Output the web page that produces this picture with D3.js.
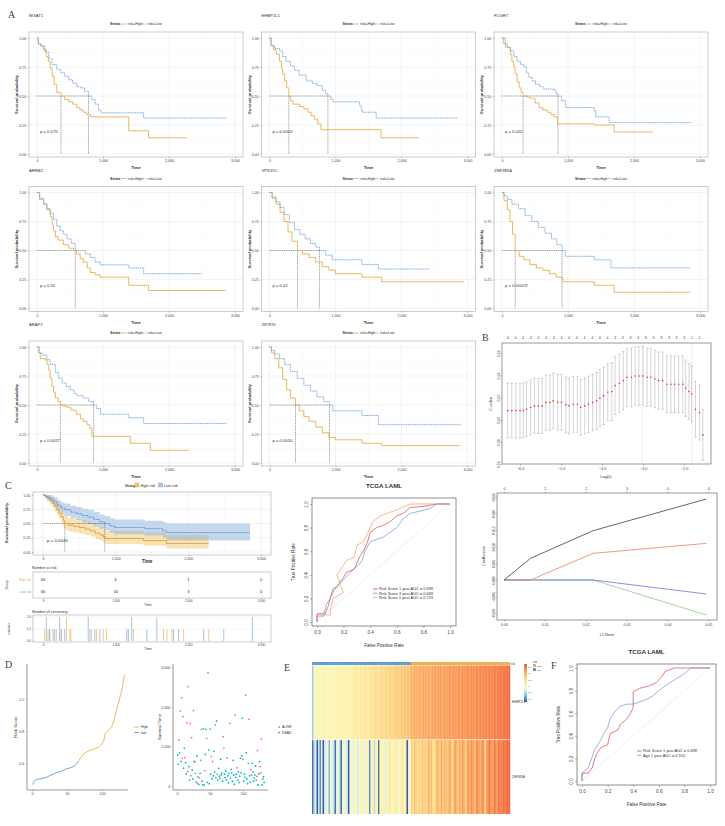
<!DOCTYPE html>
<html>
<head>
  <script src="https://d3js.org/d3.v7.min.js"></script>
  <title>Risk model figure</title>
  <style>
    body { margin: 0; background: #fff; }
    svg { display: block; font-family: "Liberation Sans", Arial, sans-serif; }
  </style>
</head>
<body>
<div id="fig"></div>
<script>
// ---------------- data ----------------
// A: Kaplan-Meier curves per gene (time in days, survival prob)
const kmGenes = ["MGAT1", "EHBP1L1", "FCGRT", "ARRB2", "VPS37C", "ZNF385A", "ARAP1", "Z87870"];
const kmPvals = ["p = 0.075", "p = 0.0003", "p = 0.022", "p = 0.32", "p = 0.42", "p = 0.00019", "p = 0.0027", "p = 0.0010"];
const kmHigh = [
  [[0,1],[20,0.95],[60,0.93],[100,0.9],[140,0.84],[170,0.8],[200,0.74],[230,0.67],[260,0.6],[300,0.53],[364,0.5],[420,0.47],[480,0.45],[540,0.43],[600,0.4],[650,0.38],[700,0.36],[750,0.34],[810,0.32],[1390,0.2],[1690,0.14],[2280,0.14]],
  [[0,1],[25,0.94],[60,0.9],[100,0.86],[150,0.8],[180,0.74],[200,0.69],[230,0.63],[260,0.57],[293,0.5],[320,0.46],[354,0.43],[455,0.41],[520,0.39],[580,0.36],[630,0.33],[680,0.3],[730,0.26],[780,0.21],[1690,0.14],[2270,0.14]],
  [[0,1],[25,0.95],[80,0.92],[127,0.86],[150,0.8],[178,0.75],[200,0.69],[228,0.62],[260,0.57],[290,0.53],[320,0.5],[380,0.49],[430,0.48],[500,0.44],[560,0.4],[620,0.38],[685,0.36],[740,0.34],[787,0.32],[840,0.26],[1396,0.25],[1700,0.19],[2285,0.19]],
  [[0,1],[40,0.95],[100,0.9],[150,0.85],[200,0.79],[230,0.72],[250,0.67],[280,0.62],[320,0.59],[400,0.55],[480,0.52],[555,0.5],[600,0.47],[655,0.43],[700,0.4],[760,0.35],[808,0.31],[880,0.29],[960,0.27],[1390,0.2],[1690,0.155],[2860,0.155]],
  [[0,1],[40,0.95],[100,0.9],[160,0.83],[220,0.75],[280,0.66],[340,0.58],[424,0.5],[500,0.47],[600,0.44],[700,0.4],[800,0.36],[900,0.33],[1000,0.3],[1400,0.27],[1700,0.23],[2950,0.23]],
  [[0,1],[30,0.93],[80,0.85],[120,0.75],[160,0.64],[200,0.5],[260,0.45],[330,0.42],[420,0.38],[520,0.35],[620,0.33],[720,0.3],[820,0.27],[920,0.23],[1400,0.2],[1700,0.14],[2850,0.14]],
  [[0,1],[30,0.95],[50,0.9],[126,0.89],[150,0.85],[177,0.8],[200,0.73],[227,0.66],[250,0.61],[278,0.56],[320,0.53],[353,0.5],[400,0.49],[455,0.48],[510,0.46],[555,0.45],[600,0.42],[657,0.38],[700,0.36],[757,0.33],[800,0.3],[833,0.23],[1414,0.17],[1717,0.11],[2300,0.11]],
  [[0,1],[30,0.95],[80,0.9],[140,0.82],[200,0.72],[260,0.63],[320,0.56],[394,0.5],[450,0.45],[520,0.4],[600,0.36],[700,0.31],[800,0.26],[900,0.22],[1000,0.2],[1400,0.17],[1700,0.15],[2880,0.15]]
];
const kmLow = [
  [[0,1],[20,0.95],[60,0.93],[120,0.88],[180,0.82],[230,0.77],[300,0.73],[360,0.7],[420,0.67],[480,0.64],[540,0.61],[600,0.58],[660,0.57],[720,0.54],[780,0.5],[830,0.47],[880,0.43],[930,0.38],[970,0.355],[1616,0.31],[2880,0.31]],
  [[0,1],[25,0.93],[80,0.91],[150,0.89],[200,0.84],[250,0.8],[320,0.76],[380,0.72],[450,0.68],[555,0.63],[650,0.61],[720,0.59],[800,0.55],[850,0.52],[885,0.5],[930,0.47],[960,0.45],[1365,0.42],[1390,0.38],[1410,0.36],[1616,0.31],[2850,0.31]],
  [[0,1],[50,0.92],[127,0.89],[180,0.84],[228,0.8],[280,0.77],[330,0.75],[370,0.7],[406,0.66],[460,0.63],[508,0.6],[570,0.58],[635,0.56],[787,0.55],[820,0.52],[848,0.5],[900,0.46],[965,0.4],[1396,0.37],[1420,0.32],[1624,0.27],[2870,0.27]],
  [[0,1],[40,0.94],[100,0.9],[150,0.86],[200,0.82],[250,0.77],[300,0.71],[350,0.67],[400,0.64],[455,0.6],[520,0.56],[580,0.5],[655,0.5],[730,0.47],[808,0.44],[880,0.4],[960,0.376],[1390,0.35],[1616,0.3],[2500,0.3]],
  [[0,1],[40,0.96],[100,0.92],[160,0.87],[220,0.81],[300,0.74],[380,0.68],[460,0.64],[540,0.6],[620,0.56],[700,0.53],[757,0.5],[850,0.46],[950,0.42],[1400,0.38],[1650,0.34],[2420,0.34]],
  [[0,1],[30,0.97],[80,0.94],[150,0.9],[250,0.86],[350,0.8],[450,0.75],[550,0.7],[650,0.65],[750,0.6],[830,0.55],[910,0.5],[960,0.45],[1400,0.42],[1650,0.35],[2850,0.35]],
  [[0,1],[30,0.95],[80,0.93],[150,0.89],[200,0.85],[278,0.78],[330,0.73],[380,0.69],[440,0.66],[505,0.63],[560,0.6],[606,0.58],[700,0.56],[783,0.53],[858,0.5],[900,0.47],[960,0.42],[1390,0.39],[1616,0.34],[2880,0.34]],
  [[0,1],[30,0.97],[80,0.94],[150,0.9],[230,0.85],[320,0.79],[420,0.73],[520,0.67],[620,0.62],[720,0.57],[820,0.53],[909,0.5],[960,0.45],[1400,0.41],[1650,0.33],[2900,0.33]]
];
const kmMedians = [[364,780],[293,885],[320,848],[580],[424,757],[200,910],[353,858],[394,909]];

// B: lasso cross-validation
const cvLogLambda = [-6.30,-6.20,-6.10,-6.00,-5.92,-5.84,-5.74,-5.65,-5.55,-5.46,-5.37,-5.27,-5.19,-5.08,-4.99,-4.88,-4.80,-4.70,-4.60,-4.52,-4.42,-4.33,-4.23,-4.13,-4.05,-3.96,-3.86,-3.76,-3.68,-3.58,-3.48,-3.39,-3.28,-3.19,-3.10,-3.00,-2.90,-2.81,-2.71,-2.62,-2.52,-2.42,-2.32,-2.23,-2.13,-2.03,-1.96,-1.88,-1.81,-1.72,-1.62,-1.54];
const cvMean = [0.6084,0.6084,0.6084,0.6084,0.6084,0.6096,0.6111,0.6126,0.6126,0.6126,0.6156,0.6156,0.6171,0.6159,0.6159,0.6135,0.6126,0.6141,0.6141,0.6114,0.6126,0.6141,0.6156,0.6171,0.6195,0.6216,0.6249,0.6255,0.6309,0.6330,0.6354,0.6384,0.6384,0.6396,0.6396,0.6396,0.6384,0.6384,0.6369,0.6354,0.6354,0.6321,0.6321,0.6321,0.6321,0.6321,0.6285,0.6255,0.6234,0.6096,0.6066,0.5865];
const cvSd = [0.0246,0.0246,0.0246,0.0246,0.0246,0.0246,0.0247,0.0247,0.0247,0.0248,0.0249,0.0250,0.0250,0.0250,0.0251,0.0252,0.0252,0.0252,0.0252,0.0252,0.0253,0.0254,0.0255,0.0256,0.0257,0.0258,0.0259,0.0260,0.0261,0.0262,0.0262,0.0263,0.0264,0.0264,0.0264,0.0263,0.0262,0.0261,0.0260,0.0258,0.0257,0.0256,0.0255,0.0255,0.0255,0.0255,0.0254,0.0253,0.0252,0.0250,0.0248,0.0230];
const cvTopLabels = ["4","4","4","4","4","4","4","4","4","4","4","4","4","4","3","3","3","3","3","3","3","3","3","3","1","1"];
const cvTicksY = [0.56, 0.58, 0.60, 0.62, 0.64, 0.66];
const cvLambdaMin = -3.02, cvLambda1se = -1.81;

// Lasso coefficient path
const coefL1 = [0, 0.0065, 0.0218, 0.0495];
const coefGene1 = [0, 0.0065, 0.0148, 0.0243];
const coefGene2 = [0, 0, 0.008, 0.011];
const coefGene3 = [0, 0, 0, -0.0042];
const coefGene4 = [0, 0, 0, -0.0105];
const coefTopLabels = ["0", "2", "2", "3", "4", "4"];

// C: risk-group KM with CI [time, surv, lower, upper]
const cHigh = [[0,1,1,1],[30,0.97,0.93,1],[60,0.94,0.88,1],[100,0.9,0.83,0.97],[130,0.85,0.77,0.94],[160,0.8,0.71,0.9],[190,0.74,0.64,0.85],[220,0.68,0.58,0.8],[250,0.62,0.51,0.74],[280,0.55,0.44,0.68],[300,0.5,0.39,0.63],[350,0.47,0.36,0.6],[420,0.45,0.34,0.58],[500,0.43,0.32,0.56],[580,0.4,0.3,0.54],[650,0.37,0.27,0.51],[720,0.33,0.23,0.47],[780,0.3,0.2,0.44],[830,0.26,0.17,0.4],[860,0.235,0.14,0.37],[1380,0.2,0.11,0.34],[1700,0.15,0.06,0.3],[2280,0.15,0.06,0.3]];
const cLow = [[0,1,1,1],[30,0.98,0.95,1],[60,0.96,0.91,1],[100,0.93,0.87,0.99],[150,0.88,0.8,0.96],[200,0.82,0.73,0.91],[250,0.77,0.67,0.87],[300,0.74,0.63,0.85],[380,0.7,0.59,0.81],[460,0.67,0.56,0.79],[540,0.64,0.52,0.76],[620,0.61,0.49,0.74],[700,0.57,0.45,0.7],[780,0.53,0.41,0.66],[850,0.5,0.38,0.63],[920,0.46,0.34,0.6],[980,0.43,0.31,0.57],[1400,0.41,0.29,0.55],[1650,0.37,0.25,0.52],[1700,0.34,0.2,0.5],[2850,0.34,0.2,0.5]];
const cMedians = [300, 850];
const riskTimes = [0, 1000, 2000, 3000];
const riskHighN = [66, 6, 1, 0];
const riskLowN = [66, 16, 3, 0];
const censorHighT = [23, 69, 92, 184, 230, 322, 369, 382, 668, 737, 829, 875, 1244, 1659, 1705, 1774, 1935, 2281];
const censorHighN = [1, 1, 1, 1, 1, 2, 1, 1, 1, 1, 1, 1, 1, 1, 1, 1, 1, 1];
const censorLowT = [46, 92, 138, 161, 230, 253, 299, 622, 645, 714, 783, 1152, 1175, 1221, 1429, 1567, 1797, 1866, 2212, 2488, 2880];
const censorLowN = [2, 1, 1, 1, 2, 1, 1, 2, 1, 1, 1, 1, 1, 2, 1, 2, 1, 1, 1, 1, 2];

// D: risk score curve (patient rank, score) and survival status
const riskRank = [1,3,6,10,15,20,25,30,35,40,45,50,55,60,63,66,70,75,80,85,90,95,100,103,105,108,112,116,119,122,125,128,130,132];
const riskScore = [0.13,0.17,0.19,0.2,0.21,0.22,0.24,0.26,0.28,0.29,0.31,0.33,0.34,0.36,0.38,0.42,0.47,0.52,0.55,0.56,0.58,0.6,0.64,0.7,0.78,0.8,0.83,0.9,1.0,1.1,1.2,1.3,1.4,1.5];
const nLow = 66;
const survTime = [785,550,1165,840,1900,620,2237,700,1755,450,954,718,590,300,1604,363,2515,490,150,1587,260,1224,405,180,1907,620,616,320,100,760,68,230,40,200,320,650,1435,120,30,1450,25,390,800,1435,1207,90,2870,910,60,1440,300,750,180,620,260,880,350,1545,210,1646,300,150,447,250,195,680,280,330,120,1250,954,300,210,380,150,710,260,80,320,1587,200,420,330,120,650,280,40,1797,220,300,460,150,360,90,250,700,330,760,1713,675,120,300,220,2304,844,180,60,574,1688,260,100,420,278,574,350,120,200,280,506,150,240,895,25,310,616,490,337,1190,25,180,236,90];
const survStatus = ["D","D","A","D","A","D","A","A","A","D","D","A","D","D","A","A","A","D","D","A","A","A","D","D","A","A","D","A","D","D","A","D","D","A","D","A","A","D","D","D","D","A","D","D","A","D","A","D","D","D","D","A","D","A","D","D","D","A","D","D","A","D","D","D","D","D","D","D","D","A","A","D","D","D","D","A","D","D","D","A","D","D","D","D","D","D","D","A","D","D","A","D","D","D","D","D","D","D","D","A","D","D","D","A","D","D","D","D","A","D","D","A","A","D","D","D","D","D","D","D","A","A","D","D","D","A","A","A","D","D","D","D"];

// E: heatmap of two genes across patients (sorted by risk)
const heatGenes = ["EHBP1L1", "ZNF385A"];
const heatEHBP1L1 = [0.75,1.02,1.0,1.04,1.02,0.99,1.05,1.02,1.07,1.04,1.0,1.06,1.02,1.07,1.05,1.02,1.08,1.06,1.04,1.09,1.07,1.05,1.1,1.08,1.12,1.06,1.1,1.12,1.09,1.14,1.12,1.1,1.16,1.12,1.14,1.17,1.15,1.12,1.18,1.16,1.2,1.17,1.22,1.19,1.16,1.22,1.24,1.2,1.22,1.26,1.22,1.24,1.28,1.25,1.22,1.29,1.27,1.3,1.26,1.32,1.29,1.32,1.3,1.34,1.32,1.36,
  1.40,1.38,1.42,1.41,1.39,1.43,1.42,1.40,1.44,1.42,1.41,1.45,1.43,1.42,1.46,1.44,1.47,1.43,1.45,1.48,1.46,1.44,1.49,1.47,1.46,1.5,1.48,1.46,1.5,1.49,1.47,1.51,1.5,1.48,1.52,1.5,1.49,1.53,1.51,1.5,1.54,1.52,1.5,1.55,1.53,1.52,1.56,1.54,1.53,1.57,1.55,1.54,1.58,1.56,1.55,1.59,1.58,1.56,1.6,1.59,1.61,1.6,1.62,1.61,1.63,1.65];
const heatZNF385A = [0.55,0.8,0.9,0.5,0.85,0.6,0.95,0.5,0.85,0.9,0.95,0.7,1.0,0.9,0.85,0.55,0.9,1.0,0.8,0.55,0.95,1.0,0.9,0.85,0.5,0.95,1.0,0.9,1.05,1.0,0.85,0.95,1.05,1.1,1.0,0.9,1.05,1.1,0.6,0.95,1.05,0.8,1.1,1.05,0.55,1.0,1.1,1.05,0.9,1.1,1.05,1.15,1.1,1.0,1.05,1.1,1.15,1.05,0.95,1.1,1.15,1.05,1.1,0.5,0.9,1.05,
  1.3,1.2,1.35,1.25,1.2,1.3,1.15,1.35,1.25,1.3,1.2,1.4,1.3,1.35,1.25,1.15,1.3,1.4,1.35,1.3,1.45,1.25,1.4,1.35,1.3,1.45,1.4,1.2,1.35,1.5,1.4,1.3,1.45,1.35,1.5,1.4,1.25,1.45,1.5,1.4,1.55,1.45,1.35,1.5,1.55,1.45,1.4,1.55,1.5,1.2,1.5,1.55,1.6,1.5,1.45,1.6,1.55,1.5,1.62,1.58,1.55,1.64,1.6,1.63,1.66,1.65];
const heatLegendTicks = [1.6, 1.4, 1.2, 1, 0.8, 0.6];

// ROC curves [FPR, TPR]
const rocRisk1y = [[0,0],[0,0.07],[0.06,0.07],[0.08,0.12],[0.1,0.2],[0.12,0.28],[0.15,0.3],[0.2,0.38],[0.22,0.42],[0.28,0.45],[0.3,0.5],[0.32,0.55],[0.35,0.6],[0.38,0.68],[0.4,0.76],[0.45,0.8],[0.5,0.82],[0.55,0.85],[0.6,0.9],[0.65,0.92],[0.7,0.97],[0.8,0.98],[0.9,1],[1,1]];
const rocRisk3y = [[0,0],[0,0.05],[0.05,0.05],[0.07,0.15],[0.1,0.2],[0.12,0.25],[0.15,0.3],[0.2,0.36],[0.25,0.42],[0.3,0.47],[0.34,0.52],[0.36,0.6],[0.4,0.68],[0.5,0.72],[0.55,0.76],[0.6,0.8],[0.65,0.88],[0.7,0.92],[0.85,0.96],[0.9,1],[1,1]];
const rocRisk5y = [[0,0],[0,0.06],[0.1,0.06],[0.1,0.1],[0.12,0.2],[0.2,0.25],[0.18,0.3],[0.15,0.4],[0.2,0.48],[0.22,0.52],[0.28,0.55],[0.3,0.65],[0.35,0.68],[0.38,0.75],[0.42,0.85],[0.48,0.9],[0.55,0.93],[0.6,0.95],[0.7,1],[1,1]];
const rocLegend1 = ["Risk Score 1 year AUC = 0.699", "Risk Score 3 year AUC = 0.683", "Risk Score 5 year AUC = 0.723"];
const rocRiskF = [[0,0],[0,0.07],[0.05,0.07],[0.08,0.12],[0.1,0.2],[0.12,0.25],[0.15,0.3],[0.2,0.32],[0.22,0.42],[0.28,0.45],[0.3,0.5],[0.35,0.55],[0.38,0.6],[0.4,0.65],[0.4,0.79],[0.45,0.82],[0.52,0.84],[0.58,0.87],[0.62,0.92],[0.65,0.97],[0.72,1],[1,1]];
const rocAgeF = [[0,0],[0,0.07],[0.05,0.12],[0.1,0.28],[0.14,0.35],[0.17,0.42],[0.2,0.47],[0.22,0.55],[0.26,0.62],[0.3,0.66],[0.35,0.68],[0.4,0.68],[0.5,0.72],[0.55,0.75],[0.6,0.8],[0.7,0.88],[0.8,0.95],[0.85,1],[1,1]];
const rocLegendF = ["Risk Score 1 year AUC = 0.699", "Age 1 year AUC = 0.552"];

// ---------------- drawing ----------------
const ORANGE = "#E8B04E", BLUE = "#6EA5DA";
const svg = d3.select("#fig").append("svg").attr("width", 725).attr("height", 826);
svg.append("rect").attr("width", 725).attr("height", 826).attr("fill", "#fff");

function txt(g, x, y, s, fs, opts = {}) {
  const t = g.append("text").attr("x", x).attr("y", y).text(s)
    .style("font-size", fs + "px").attr("fill", opts.fill || "#333")
    .attr("text-anchor", opts.anchor || "start");
  if (opts.weight) t.style("font-weight", opts.weight);
  if (opts.italic) t.style("font-style", "italic");
  if (opts.rotate) t.attr("transform", `rotate(-90,${x},${y})`);
  if (opts.family) t.style("font-family", opts.family);
  return t;
}
function styleAxis(a, fs, col) {
  a.attr("font-family", null).attr("font-size", null);
  a.select(".domain").remove();
  a.selectAll(".tick line").attr("stroke", col || "#666").attr("stroke-width", 0.4);
  a.selectAll(".tick text").style("font-size", fs + "px").attr("fill", "#444");
}
function panelLetter(x, y, s) {
  txt(svg, x, y, s, 10, { family: "'Liberation Serif', 'DejaVu Serif', serif", fill: "#444" });
}

// ----- A: eight KM plots -----
function drawKM(i) {
  const r = Math.floor(i / 3), c = i % 3;
  const x0 = 37 + c * 232.5, y1 = 38 + r * 154.5, y0 = 154 + r * 154.5;
  const x = d3.scaleLinear().domain([0, 3000]).range([x0, x0 + 198]);
  const y = d3.scaleLinear().domain([0, 1]).range([y0, y1]);
  const L = x0 - 8, R = x0 + 206, T = y1 - 6, B = y0 + 3;
  const g = svg.append("g");

  g.selectAll(null).data([500, 1500, 2500]).join("line")
    .attr("x1", d => x(d)).attr("x2", d => x(d)).attr("y1", T).attr("y2", B)
    .attr("stroke", "#f3f3f3").attr("stroke-width", 0.4);
  g.selectAll(null).data([0.125, 0.375, 0.625, 0.875]).join("line")
    .attr("y1", d => y(d)).attr("y2", d => y(d)).attr("x1", L).attr("x2", R)
    .attr("stroke", "#f3f3f3").attr("stroke-width", 0.4);
  g.selectAll(null).data([0, 1000, 2000, 3000]).join("line")
    .attr("x1", d => x(d)).attr("x2", d => x(d)).attr("y1", T).attr("y2", B)
    .attr("stroke", "#e6e6e6").attr("stroke-width", 0.5);
  g.selectAll(null).data([0, 0.25, 0.5, 0.75, 1]).join("line")
    .attr("y1", d => y(d)).attr("y2", d => y(d)).attr("x1", L).attr("x2", R)
    .attr("stroke", "#e6e6e6").attr("stroke-width", 0.5);
  g.append("rect").attr("x", L).attr("y", T).attr("width", R - L).attr("height", B - T)
    .attr("fill", "none").attr("stroke", "#aaa").attr("stroke-width", 0.6);

  const ax = g.append("g").attr("transform", `translate(0,${B})`)
    .call(d3.axisBottom(x).tickValues([0, 1000, 2000, 3000]).tickSize(1.2).tickPadding(1.5));
  styleAxis(ax, 3.6);
  const ay = g.append("g").attr("transform", `translate(${L},0)`)
    .call(d3.axisLeft(y).tickValues([0, 0.25, 0.5, 0.75, 1]).tickFormat(d3.format(".2f")).tickSize(1.2).tickPadding(1.5));
  styleAxis(ay, 3.6);

  txt(g, x0 + 99, B + 12, "Time", 4.2, { anchor: "middle", weight: "bold" });
  txt(g, L - 11, (T + B) / 2, "Survival probability", 4.2, { anchor: "middle", weight: "bold", rotate: true });
  txt(g, L, y1 - 21, kmGenes[i], 4.2);

  // legend
  const ly = y1 - 14;
  txt(g, x0 + 73, ly + 1.3, "Strata", 3.6, { weight: "bold" });
  g.append("line").attr("x1", x0 + 84).attr("x2", x0 + 89).attr("y1", ly).attr("y2", ly)
    .attr("stroke", ORANGE).attr("stroke-width", 0.9);
  txt(g, x0 + 90.5, ly + 1.3, "risk=High", 3.6);
  g.append("line").attr("x1", x0 + 104).attr("x2", x0 + 109).attr("y1", ly).attr("y2", ly)
    .attr("stroke", BLUE).attr("stroke-width", 0.9).attr("stroke-dasharray", "1.2,0.6");
  txt(g, x0 + 110.5, ly + 1.3, "risk=Low", 3.6);

  // median lines
  const meds = kmMedians[i];
  g.append("line").attr("x1", x(0)).attr("x2", x(d3.max(meds))).attr("y1", y(0.5)).attr("y2", y(0.5))
    .attr("stroke", "#333").attr("stroke-width", 0.5).attr("stroke-dasharray", "1,0.8");
  g.selectAll(null).data(meds).join("line")
    .attr("x1", d => x(d)).attr("x2", d => x(d)).attr("y1", y(0.5)).attr("y2", y(0))
    .attr("stroke", "#333").attr("stroke-width", 0.5).attr("stroke-dasharray", "1,0.8");

  const line = d3.line().x(d => x(d[0])).y(d => y(d[1])).curve(d3.curveStepAfter);
  g.append("path").attr("d", line(kmHigh[i])).attr("fill", "none").attr("stroke", ORANGE).attr("stroke-width", 0.9);
  g.append("path").attr("d", line(kmLow[i])).attr("fill", "none").attr("stroke", BLUE).attr("stroke-width", 0.9)
    .attr("stroke-dasharray", "1.2,0.6");

  txt(g, x0 + 3, y(0.2) + 2, kmPvals[i], 4.2);
}
kmGenes.forEach((d, i) => drawKM(i));
panelLetter(8, 18, "A");

// ----- B: lasso CV -----
(function () {
  const L = 502, R = 711, T = 343, B = 464;
  const x = d3.scaleLinear().domain([-6, -2]).range([520, 684]);
  const y = d3.scaleLinear().domain([0.56, 0.66]).range([464.3, 353.3]);
  const g = svg.append("g");
  g.append("rect").attr("x", L).attr("y", T).attr("width", R - L).attr("height", B - T)
    .attr("fill", "none").attr("stroke", "#555").attr("stroke-width", 0.6);
  const ax = g.append("g").attr("transform", `translate(0,${B})`)
    .call(d3.axisBottom(x).tickValues([-6, -5, -4, -3, -2]).tickSize(1.5).tickPadding(2));
  styleAxis(ax, 3.8, "#555");
  const ay = g.append("g").attr("transform", `translate(${L},0)`)
    .call(d3.axisLeft(y).tickValues(cvTicksY).tickFormat(d3.format(".2f")).tickSize(1.5).tickPadding(1.5));
  styleAxis(ay, 3.5, "#555");
  ay.selectAll(".tick text").attr("transform", "rotate(-90)").attr("x", 0).attr("dy", 0).attr("y", -2.5).attr("text-anchor", "middle");
  txt(g, 606, 478, "Log(λ)", 4, { anchor: "middle" });
  txt(g, 492, 404, "C-index", 4, { anchor: "middle", rotate: true });
  // reference lines
  g.selectAll(null).data([cvLambdaMin, cvLambda1se]).join("line")
    .attr("x1", d => x(d)).attr("x2", d => x(d)).attr("y1", T).attr("y2", B)
    .attr("stroke", "#bbb").attr("stroke-width", 0.5).attr("stroke-dasharray", "1,1");
  // error bars
  const pts = cvLogLambda.map((l, i) => ({ l, m: cvMean[i], s: cvSd[i] }));
  g.selectAll(null).data(pts).join("line")
    .attr("x1", d => x(d.l)).attr("x2", d => x(d.l)).attr("y1", d => y(d.m - d.s)).attr("y2", d => y(d.m + d.s))
    .attr("stroke", "#aaa").attr("stroke-width", 0.5);
  [-1, 1].forEach(sgn => {
    g.selectAll(null).data(pts).join("line")
      .attr("x1", d => x(d.l) - 1.3).attr("x2", d => x(d.l) + 1.3)
      .attr("y1", d => y(d.m + sgn * d.s)).attr("y2", d => y(d.m + sgn * d.s))
      .attr("stroke", "#aaa").attr("stroke-width", 0.5);
  });
  g.selectAll(null).data(pts).join("circle")
    .attr("cx", d => x(d.l)).attr("cy", d => y(d.m)).attr("r", 0.8).attr("fill", "#E8302A");
  // top numbers
  const topX = d3.scaleLinear().domain([0, cvTopLabels.length - 1]).range([x(-6.30), x(-1.62)]);
  g.selectAll(null).data(cvTopLabels).join("text")
    .attr("x", (d, i) => topX(i)).attr("y", 338.5).attr("text-anchor", "middle")
    .style("font-size", "3.6px").attr("fill", "#444").text(d => d);
  panelLetter(482, 341, "B");
})();

// ----- lasso coefficient path -----
(function () {
  const L = 497, R = 717, T = 493, B = 620;
  const x = d3.scaleLinear().domain([0, 0.05]).range([504, 708.3]);
  const y = d3.scaleLinear().domain([-0.01, 0.025]).range([613.3, 496.7]);
  const g = svg.append("g");
  g.append("rect").attr("x", L).attr("y", T).attr("width", R - L).attr("height", B - T)
    .attr("fill", "none").attr("stroke", "#555").attr("stroke-width", 0.6);
  const xt = [0, 0.01, 0.02, 0.03, 0.04, 0.05];
  const ax = g.append("g").attr("transform", `translate(0,${B})`)
    .call(d3.axisBottom(x).tickValues(xt).tickFormat(d3.format(".2f")).tickSize(1.5).tickPadding(2));
  styleAxis(ax, 3.6, "#555");
  const at = g.append("g").attr("transform", `translate(0,${T})`)
    .call(d3.axisTop(x).tickValues(xt).tickFormat((d, i) => coefTopLabels[i]).tickSize(1.5).tickPadding(2));
  styleAxis(at, 3.6, "#555");
  const ay = g.append("g").attr("transform", `translate(${L},0)`)
    .call(d3.axisLeft(y).tickValues([-0.01, -0.005, 0, 0.005, 0.01, 0.015, 0.02, 0.025]).tickFormat(d3.format(".3f")).tickSize(1.5).tickPadding(1.5));
  styleAxis(ay, 3.3, "#555");
  ay.selectAll(".tick text").attr("transform", "rotate(-90)").attr("x", 0).attr("dy", 0).attr("y", -2.5).attr("text-anchor", "middle");
  txt(g, 607, 636, "L1 Norm", 3.8, { anchor: "middle" });
  txt(g, 485, 556, "Coefficients", 3.8, { anchor: "middle", rotate: true });
  const line = d3.line().x((d, i) => x(coefL1[i])).y(d => y(d));
  [[coefGene4, "#7DC36F"], [coefGene3, "#5B5BCF"], [coefGene2, "#EE6A58"], [coefGene1, "#222"]].forEach(([arr, col]) => {
    g.append("path").attr("d", line(arr)).attr("fill", "none").attr("stroke", col).attr("stroke-width", 0.7);
  });
})();

// ----- C: risk group KM with table -----
(function () {
  const L = 33, R = 271;
  const x = d3.scaleLinear().domain([0, 3000]).range([43, 261]);
  const y = d3.scaleLinear().domain([0, 1]).range([552, 495]);
  const T = 492, B = 555;
  const g = svg.append("g");
  panelLetter(5, 489, "C");
  g.selectAll(null).data([500, 1500, 2500]).join("line")
    .attr("x1", d => x(d)).attr("x2", d => x(d)).attr("y1", T).attr("y2", B).attr("stroke", "#f3f3f3").attr("stroke-width", 0.4);
  g.selectAll(null).data([0, 1000, 2000, 3000]).join("line")
    .attr("x1", d => x(d)).attr("x2", d => x(d)).attr("y1", T).attr("y2", B).attr("stroke", "#e6e6e6").attr("stroke-width", 0.5);
  g.selectAll(null).data([0, 0.25, 0.5, 0.75, 1]).join("line")
    .attr("y1", d => y(d)).attr("y2", d => y(d)).attr("x1", L).attr("x2", R).attr("stroke", "#e6e6e6").attr("stroke-width", 0.5);
  g.append("rect").attr("x", L).attr("y", T).attr("width", R - L).attr("height", B - T)
    .attr("fill", "none").attr("stroke", "#aaa").attr("stroke-width", 0.6);

  const area = d3.area().x(d => x(d[0])).y0(d => y(d[2])).y1(d => y(d[3])).curve(d3.curveStepAfter);
  g.append("path").attr("d", area(cHigh)).attr("fill", "#EFC15F").attr("fill-opacity", 0.45);
  g.append("path").attr("d", area(cLow)).attr("fill", "#7FA8DA").attr("fill-opacity", 0.45);
  g.append("line").attr("x1", x(0)).attr("x2", x(d3.max(cMedians))).attr("y1", y(0.5)).attr("y2", y(0.5))
    .attr("stroke", "#333").attr("stroke-width", 0.5).attr("stroke-dasharray", "1,0.8");
  g.selectAll(null).data(cMedians).join("line")
    .attr("x1", d => x(d)).attr("x2", d => x(d)).attr("y1", y(0.5)).attr("y2", y(0))
    .attr("stroke", "#333").attr("stroke-width", 0.5).attr("stroke-dasharray", "1,0.8");
  const line = d3.line().x(d => x(d[0])).y(d => y(d[1])).curve(d3.curveStepAfter);
  g.append("path").attr("d", line(cHigh)).attr("fill", "none").attr("stroke", "#D9A33A").attr("stroke-width", 0.9);
  g.append("path").attr("d", line(cLow)).attr("fill", "none").attr("stroke", "#4F8FD0").attr("stroke-width", 0.9).attr("stroke-dasharray", "1.2,0.6");

  const ax = g.append("g").attr("transform", `translate(0,${B})`)
    .call(d3.axisBottom(x).tickValues(riskTimes).tickSize(1.2).tickPadding(1.5));
  styleAxis(ax, 3.6);
  const ay = g.append("g").attr("transform", `translate(${L},0)`)
    .call(d3.axisLeft(y).tickValues([0, 0.25, 0.5, 0.75, 1]).tickFormat(d3.format(".2f")).tickSize(1.2).tickPadding(1.5));
  styleAxis(ay, 3.6);
  txt(g, 147, 563, "Time", 4.6, { anchor: "middle", weight: "bold", italic: true });
  txt(g, 8, 523, "Survival probability", 4.4, { anchor: "middle", weight: "bold", italic: true, rotate: true });
  txt(g, 47, 542, "p = 0.0045", 4.4);
  // legend
  txt(g, 125, 486.5, "Group", 3.8, { weight: "bold" });
  g.append("rect").attr("x", 135).attr("y", 483).attr("width", 4).attr("height", 4).attr("fill", "#EFC15F").attr("stroke", ORANGE).attr("stroke-width", 0.4);
  txt(g, 140.5, 486.5, "High risk", 3.8);
  g.append("rect").attr("x", 158.5).attr("y", 483).attr("width", 4).attr("height", 4).attr("fill", "#A9C6EA").attr("stroke", BLUE).attr("stroke-width", 0.4);
  txt(g, 164, 486.5, "Low risk", 3.8);

  // number at risk
  txt(g, 32, 569, "Number at risk", 3.8);
  const tT = 572, tB = 598;
  g.append("rect").attr("x", L).attr("y", tT).attr("width", R - L).attr("height", tB - tT).attr("fill", "none").attr("stroke", "#aaa").attr("stroke-width", 0.6);
  g.selectAll(null).data(riskTimes).join("line").attr("x1", d => x(d)).attr("x2", d => x(d)).attr("y1", tT).attr("y2", tB).attr("stroke", "#eee").attr("stroke-width", 0.5);
  g.selectAll(null).data(riskHighN).join("text").attr("x", (d, i) => x(riskTimes[i])).attr("y", 580.5)
    .attr("text-anchor", "middle").style("font-size", "4px").attr("fill", "#333").text(d => d);
  g.selectAll(null).data(riskLowN).join("text").attr("x", (d, i) => x(riskTimes[i])).attr("y", 593)
    .attr("text-anchor", "middle").style("font-size", "4px").attr("fill", "#333").text(d => d);
  txt(g, 31, 580.5, "High risk", 3, { anchor: "end", fill: ORANGE });
  txt(g, 31, 593, "Low risk", 3, { anchor: "end", fill: BLUE });
  txt(g, 8, 585, "Group", 3.3, { anchor: "middle", rotate: true });
  const at = g.append("g").attr("transform", `translate(0,${tB})`).call(d3.axisBottom(x).tickValues(riskTimes).tickSize(1).tickPadding(1));
  styleAxis(at, 3);
  txt(g, 148, 606, "Time", 3.4, { anchor: "middle" });

  // censoring
  txt(g, 32, 613, "Number of censoring", 3.8);
  const cT = 615, cB = 642;
  const yc = d3.scaleLinear().domain([0, 2]).range([641, 617]);
  g.append("rect").attr("x", L).attr("y", cT).attr("width", R - L).attr("height", cB - cT).attr("fill", "none").attr("stroke", "#aaa").attr("stroke-width", 0.6);
  g.selectAll(null).data([0, 1, 2]).join("line").attr("x1", L).attr("x2", R).attr("y1", d => yc(d)).attr("y2", d => yc(d)).attr("stroke", "#eee").attr("stroke-width", 0.5);
  g.selectAll(null).data(censorHighT).join("line")
    .attr("x1", d => x(d)).attr("x2", d => x(d)).attr("y1", yc(0)).attr("y2", (d, i) => yc(censorHighN[i]))
    .attr("stroke", "#EDC06A").attr("stroke-width", 0.8);
  g.selectAll(null).data(censorLowT).join("line")
    .attr("x1", d => x(d)).attr("x2", d => x(d)).attr("y1", yc(0)).attr("y2", (d, i) => yc(censorLowN[i]))
    .attr("stroke", "#8DB4E2").attr("stroke-width", 0.8);
  const cy = g.append("g").attr("transform", `translate(${L},0)`).call(d3.axisLeft(yc).tickValues([0, 1, 2]).tickSize(1).tickPadding(1));
  styleAxis(cy, 3);
  txt(g, 10, 629, "n.censor", 3, { anchor: "middle", rotate: true });
  const cx = g.append("g").attr("transform", `translate(0,${cB})`).call(d3.axisBottom(x).tickValues(riskTimes).tickSize(1).tickPadding(1));
  styleAxis(cx, 3);
  txt(g, 148, 650, "Time", 3.4, { anchor: "middle" });
})();

// ----- ROC panels -----
function drawROC(frame, series, cols, labels, legendPos, title) {
  const [L, R, T, B, xa, xb, ya, yb] = frame;
  const x = d3.scaleLinear().domain([0, 1]).range([xa, xb]);
  const y = d3.scaleLinear().domain([0, 1]).range([ya, yb]);
  const g = svg.append("g");
  g.append("line").attr("x1", x(0)).attr("y1", y(0)).attr("x2", x(1)).attr("y2", y(1)).attr("stroke", "#ddd").attr("stroke-width", 0.5);
  const line = d3.line().x(d => x(d[0])).y(d => y(d[1]));
  series.forEach((s, i) => g.append("path").attr("d", line(s)).attr("fill", "none").attr("stroke", cols[i]).attr("stroke-width", 0.7));
  g.append("rect").attr("x", L).attr("y", T).attr("width", R - L).attr("height", B - T).attr("fill", "none").attr("stroke", "#444").attr("stroke-width", 0.6);
  const ticks = [0, 0.2, 0.4, 0.6, 0.8, 1];
  const ax = g.append("g").attr("transform", `translate(0,${B})`).call(d3.axisBottom(x).tickValues(ticks).tickFormat(d3.format(".1f")).tickSize(2).tickPadding(3));
  styleAxis(ax, 4.6, "#444");
  const ay = g.append("g").attr("transform", `translate(${L},0)`).call(d3.axisLeft(y).tickValues(ticks).tickFormat(d3.format(".1f")).tickSize(2).tickPadding(3));
  styleAxis(ay, 4.6, "#444");
  ay.selectAll(".tick text").attr("transform", "rotate(-90)").attr("x", 0).attr("dy", 0).attr("y", -4.5).attr("text-anchor", "middle");
  txt(g, (L + R) / 2, B + 21, "False Positive Rate", 4.6, { anchor: "middle" });
  txt(g, L - 17, (T + B) / 2, "True Positive Rate", 4.6, { anchor: "middle", rotate: true });
  txt(g, (L + R) / 2, T - 10, title, 6.2, { anchor: "middle", weight: "bold" });
  labels.forEach((s, i) => {
    const ly = legendPos[1] + i * 4.2;
    g.append("line").attr("x1", legendPos[0]).attr("x2", legendPos[0] + 4.5).attr("y1", ly).attr("y2", ly).attr("stroke", cols[i]).attr("stroke-width", 0.8);
    txt(g, legendPos[0] + 6, ly + 1.4, s, 3.9);
  });
}
drawROC([312, 456, 498, 626, 317, 450, 622, 504], [rocRisk1y, rocRisk3y, rocRisk5y], ["#D9434A", "#7393D6", "#F29A62"], rocLegend1, [373, 589], "TCGA LAML");
drawROC([577, 716, 664, 785, 582, 710, 781, 668], [rocRiskF, rocAgeF], ["#D9434A", "#7393D6"], rocLegendF, [637, 751], "TCGA LAML");
panelLetter(551, 669, "F");

// ----- D: risk score & survival scatter -----
(function () {
  const g = svg.append("g");
  panelLetter(5, 668, "D");
  const x = d3.scaleLinear().domain([0, 100]).range([32, 102]);
  const y = d3.scaleLinear().domain([0.4, 1.2]).range([763, 699]);
  g.append("line").attr("x1", 27).attr("x2", 27).attr("y1", 664).attr("y2", 790).attr("stroke", "#333").attr("stroke-width", 0.5);
  g.append("line").attr("x1", 27).attr("x2", 128).attr("y1", 790).attr("y2", 790).attr("stroke", "#333").attr("stroke-width", 0.5);
  const ax = g.append("g").attr("transform", "translate(0,790)").call(d3.axisBottom(x).tickValues([0, 50, 100]).tickSize(1.2).tickPadding(1.5));
  styleAxis(ax, 3.6);
  const ay = g.append("g").attr("transform", "translate(27,0)").call(d3.axisLeft(y).tickValues([0.4, 0.8, 1.2]).tickFormat(d3.format(".1f")).tickSize(1.2).tickPadding(1.5));
  styleAxis(ay, 3.6);
  txt(g, 17, 727, "Risk Score", 4.4, { anchor: "middle", rotate: true });
  const pts = riskRank.map((r, i) => [r, riskScore[i]]);
  const line = d3.line().x(d => x(d[0])).y(d => y(d[1])).curve(d3.curveMonotoneX);
  g.append("path").attr("d", line(pts.filter(d => d[0] <= nLow))).attr("fill", "none").attr("stroke", "#5B9BD5").attr("stroke-width", 0.9);
  g.append("path").attr("d", line(pts.filter(d => d[0] >= nLow))).attr("fill", "none").attr("stroke", "#E8B04E").attr("stroke-width", 0.9);
  g.append("line").attr("x1", 134).attr("x2", 139).attr("y1", 727).attr("y2", 727).attr("stroke", "#E8B04E").attr("stroke-width", 0.9);
  txt(g, 141, 728.3, "High", 3.4);
  g.append("line").attr("x1", 134).attr("x2", 139).attr("y1", 732.5).attr("y2", 732.5).attr("stroke", "#5B9BD5").attr("stroke-width", 0.9);
  txt(g, 141, 733.8, "low", 3.4);

  // scatter
  const xs = d3.scaleLinear().domain([0, 100]).range([177, 243]);
  const ys = d3.scaleLinear().domain([0, 3000]).range([786, 667.5]);
  g.append("line").attr("x1", 173).attr("x2", 173).attr("y1", 664).attr("y2", 790).attr("stroke", "#333").attr("stroke-width", 0.5);
  g.append("line").attr("x1", 173).attr("x2", 268).attr("y1", 790).attr("y2", 790).attr("stroke", "#333").attr("stroke-width", 0.5);
  const sx = g.append("g").attr("transform", "translate(0,790)").call(d3.axisBottom(xs).tickValues([0, 50, 100]).tickSize(1.2).tickPadding(1.5));
  styleAxis(sx, 3.6);
  const sy = g.append("g").attr("transform", "translate(173,0)").call(d3.axisLeft(ys).tickValues([0, 1000, 2000, 3000]).tickSize(1.2).tickPadding(1.5));
  styleAxis(sy, 3.6);
  txt(g, 161, 727, "Survival Time", 4.4, { anchor: "middle", rotate: true });
  g.selectAll(null).data(survTime).join("circle")
    .attr("cx", (d, i) => xs(i + 1)).attr("cy", d => ys(d)).attr("r", 0.9)
    .attr("fill", (d, i) => survStatus[i] === "A" ? "#F8766D" : "#00BFC4");
  g.append("circle").attr("cx", 279).attr("cy", 727).attr("r", 0.9).attr("fill", "#F8766D");
  txt(g, 282, 728.3, "ALIVE", 3.4);
  g.append("circle").attr("cx", 279).attr("cy", 732.5).attr("r", 0.9).attr("fill", "#00BFC4");
  txt(g, 282, 733.8, "DEAD", 3.4);
})();

// ----- E: heatmap -----
(function () {
  const g = svg.append("g");
  panelLetter(284, 671, "E");
  const n = heatEHBP1L1.length;
  const x = d3.scaleBand().domain(d3.range(n)).range([312, 510]);
  const rows = [heatEHBP1L1, heatZNF385A];
  const y = d3.scaleBand().domain([0, 1]).range([665.5, 814]).paddingInner(0.01);
  const tScale = d3.scaleLinear().domain([0.5, 1.0, 1.8]).range([0.95, 0.5, 0.13]).clamp(true);
  const col = v => d3.interpolateRdYlBu(tScale(v));
  rows.forEach((vals, r) => {
    g.selectAll(null).data(vals).join("rect")
      .attr("x", (d, i) => x(i)).attr("y", y(r)).attr("width", x.bandwidth() + 0.3).attr("height", y.bandwidth())
      .attr("fill", d => col(d));
    txt(g, 512, y(r) + y.bandwidth() / 2 + 1, heatGenes[r], 3);
  });
  g.selectAll(null).data(d3.range(n)).join("rect")
    .attr("x", i => x(i)).attr("y", 662).attr("width", x.bandwidth() + 0.3).attr("height", 3)
    .attr("fill", i => i < nLow ? "#5B9BD5" : "#E8B04E");
  txt(g, 511, 665, "risk", 2.6);
  // legends
  const ly = d3.scaleLinear().domain([0.5, 1.7]).range([702, 664]);
  const grad = svg.append("defs").append("linearGradient").attr("id", "hg").attr("x1", 0).attr("x2", 0).attr("y1", 1).attr("y2", 0);
  d3.range(0, 1.01, 0.1).forEach(t => grad.append("stop").attr("offset", t).attr("stop-color", col(0.5 + t * 1.2)));
  g.append("rect").attr("x", 524).attr("y", 664).attr("width", 3).attr("height", 38).attr("fill", "url(#hg)");
  g.selectAll(null).data(heatLegendTicks).join("text").attr("x", 528).attr("y", d => ly(d) + 0.8)
    .style("font-size", "2.4px").attr("fill", "#444").text(d => d);
  txt(g, 533, 663, "risk", 2.6);
  g.append("rect").attr("x", 533).attr("y", 664).attr("width", 3).attr("height", 3).attr("fill", "#E8B04E");
  txt(g, 537, 666.5, "high", 2.4);
  g.append("rect").attr("x", 533).attr("y", 668).attr("width", 3).attr("height", 3).attr("fill", "#5B9BD5");
  txt(g, 537, 670.5, "low", 2.4);
})();
</script>
</body>
</html>
